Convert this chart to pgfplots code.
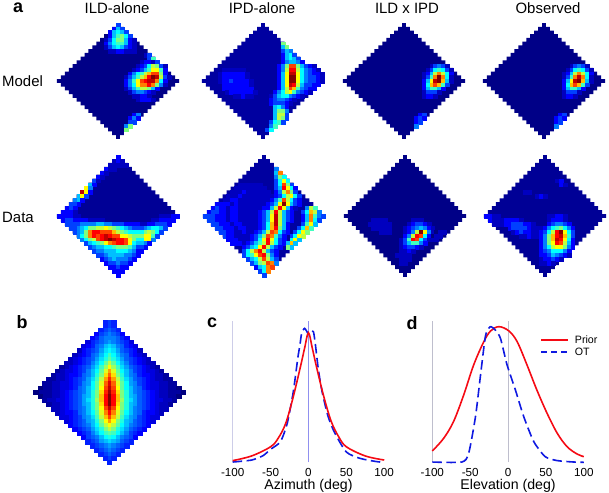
\documentclass[border=0pt]{standalone}
\usepackage{fontspec}
\setmainfont{Liberation Sans}
\usepackage{pgfplots}
\pgfplotsset{compat=1.18}
\definecolor{navyA}{RGB}{0,0,135}
\definecolor{navyB}{RGB}{0,0,160}
\definecolor{navyC}{RGB}{0,0,150}
\definecolor{lineR}{RGB}{245,10,20}
\definecolor{lineB}{RGB}{15,25,225}
\definecolor{guideA}{RGB}{205,205,232}
\definecolor{guideB}{RGB}{190,190,205}

% cells of one heat map are collected row by row, then plotted at once
\newcount\cx
\gdef\pts{}
\newcommand\hrow[3]{\cx=#2\relax
  \pgfplotsforeachungrouped \val in {#3}{\xdef\pts{\pts (\the\cx,#1) [\val]}\advance\cx by 1 }}
\newcommand\srow[2]{\cx=0\relax
  \pgfplotsforeachungrouped \val in {#2}{\xdef\pts{\pts (\the\cx,#1) [\val] (-\the\cx,#1) [\val]}\advance\cx by 1 }}
\newcommand\flushheat{\edef\tmp{\noexpand\addplot[heat] coordinates {\pts};}\tmp\gdef\pts{}}
\def\diamondpts{(-.5,15.5)(.5,15.5)(.5,14.5)(1.5,14.5)(1.5,13.5)(2.5,13.5)(2.5,12.5)(3.5,12.5)(3.5,11.5)(4.5,11.5)(4.5,10.5)(5.5,10.5)(5.5,9.5)(6.5,9.5)(6.5,8.5)(7.5,8.5)(7.5,7.5)(8.5,7.5)(8.5,6.5)(9.5,6.5)(9.5,5.5)(10.5,5.5)(10.5,4.5)(11.5,4.5)(11.5,3.5)(12.5,3.5)(12.5,2.5)(13.5,2.5)(13.5,1.5)(14.5,1.5)(14.5,.5)(15.5,.5)(15.5,-.5)(14.5,-.5)(14.5,-1.5)(13.5,-1.5)(13.5,-2.5)(12.5,-2.5)(12.5,-3.5)(11.5,-3.5)(11.5,-4.5)(10.5,-4.5)(10.5,-5.5)(9.5,-5.5)(9.5,-6.5)(8.5,-6.5)(8.5,-7.5)(7.5,-7.5)(7.5,-8.5)(6.5,-8.5)(6.5,-9.5)(5.5,-9.5)(5.5,-10.5)(4.5,-10.5)(4.5,-11.5)(3.5,-11.5)(3.5,-12.5)(2.5,-12.5)(2.5,-13.5)(1.5,-13.5)(1.5,-14.5)(.5,-14.5)(.5,-15.5)(-.5,-15.5)(-.5,-14.5)(-1.5,-14.5)(-1.5,-13.5)(-2.5,-13.5)(-2.5,-12.5)(-3.5,-12.5)(-3.5,-11.5)(-4.5,-11.5)(-4.5,-10.5)(-5.5,-10.5)(-5.5,-9.5)(-6.5,-9.5)(-6.5,-8.5)(-7.5,-8.5)(-7.5,-7.5)(-8.5,-7.5)(-8.5,-6.5)(-9.5,-6.5)(-9.5,-5.5)(-10.5,-5.5)(-10.5,-4.5)(-11.5,-4.5)(-11.5,-3.5)(-12.5,-3.5)(-12.5,-2.5)(-13.5,-2.5)(-13.5,-1.5)(-14.5,-1.5)(-14.5,-.5)(-15.5,-.5)(-15.5,.5)(-14.5,.5)(-14.5,1.5)(-13.5,1.5)(-13.5,2.5)(-12.5,2.5)(-12.5,3.5)(-11.5,3.5)(-11.5,4.5)(-10.5,4.5)(-10.5,5.5)(-9.5,5.5)(-9.5,6.5)(-8.5,6.5)(-8.5,7.5)(-7.5,7.5)(-7.5,8.5)(-6.5,8.5)(-6.5,9.5)(-5.5,9.5)(-5.5,10.5)(-4.5,10.5)(-4.5,11.5)(-3.5,11.5)(-3.5,12.5)(-2.5,12.5)(-2.5,13.5)(-1.5,13.5)(-1.5,14.5)(-.5,14.5)}
\newcommand\bgdiamond[1]{\edef\tmp{\noexpand\addplot[fill=#1,draw=none,forget plot] coordinates {\diamondpts};}\tmp}

\pgfplotsset{
  heat/.style={scatter, only marks, mark=square*, mark size=1.95bp, line width=.2bp, scatter src=explicit,
    scatter/use mapped color={draw=mapped color,fill=mapped color}, forget plot},
  hm/.style={hide axis, x=3.94bp, xmin=-15.5, xmax=15.5, ymin=-15.5, ymax=15.5,
    clip=false, anchor=center, point meta min=0, point meta max=16,
    colormap={jetish}{rgb255(0pt)=(0,0,128); rgb255(1pt)=(0,0,255); rgb255(3pt)=(0,255,255);
      rgb255(5pt)=(255,255,0); rgb255(7pt)=(255,0,0); rgb255(8pt)=(128,0,0)}},
  hmtop/.style={hm, y=3.74bp, every axis plot/.append style={mark options={yscale=.95}}},
  hmlow/.style={hm, y=3.93bp},
  curve/.style={scale only axis, width=151.5bp, height=141.3bp, xmin=-100, xmax=100, ymin=0, ymax=1,
    clip=false, anchor=south west, axis y line=none, axis x line=bottom, x axis line style={draw=none,-},
    xtick={-100,-50,0,50,100}, xtick style={draw=none}, xtick pos=bottom,
    /pgf/number format/assume math mode=true,
    xticklabel style={font=\fontsize{11.7}{13}\selectfont},
    xlabel style={font=\fontsize{14.2}{16}\selectfont, yshift=3.5bp}},
  redline/.style={color=lineR, line width=1.6bp, smooth, tension=.55, no marks},
  blueline/.style={color=lineB, line width=1.6bp, smooth, tension=.4, no marks, dash pattern=on 9.5bp off 4.5bp},
}

\begin{document}
\begin{tikzpicture}[x=1bp,y=1bp]
\path[use as bounding box] (0,0) rectangle (609,-493);

\foreach \tx/\ty/\tt in {117/-8/ILD-alone, 262/-8/IPD-alone, 407/-8/ILD x IPD, 548/-8/Observed}
  \node[font=\fontsize{15}{17}\selectfont] at (\tx,\ty) {\tt};
\node[font=\fontsize{15}{17}\selectfont, anchor=west, inner sep=0pt] at (2,-81) {Model};
\node[font=\fontsize{15}{17}\selectfont, anchor=west, inner sep=0pt] at (2,-217) {Data};
\foreach \tx/\ty/\tt in {18/-8/a, 22/-322/b, 212/-323/c, 412/-323/d}
  \node[font=\fontsize{18}{20}\selectfont\bfseries] at (\tx,\ty) {\tt};

% ILD-alone, model
\begin{axis}[hmtop, at={(118bp,-81bp)}]
\bgdiamond{navyA}
\hrow{15}{0}{3}
\hrow{14}{-1}{2,5,3}
\hrow{13}{-2}{2,5,6,5,3}
\hrow{12}{-3}{0,2,5,7,8,6,3}
\hrow{11}{-4}{0,1,3,6,8,8,5,2,1}
\hrow{10}{-3}{2,4,6,7,7,5,2,1}
\hrow{9}{-3}{1,3,5,6,5,3,2,1}
\hrow{8}{-2}{1,1,2,2,1,1,1}
\hrow{7}{7}{1,3}
\hrow{6}{8}{3,7}
\hrow{5}{6}{1,2,2,1,3}
\hrow{4}{5}{1,2,3,6,9,8,3,1}
\hrow{3}{4}{1,2,3,5,7,10,10,7,2}
\hrow{2}{3}{2,4,6,7,9,11,13,13,8,2}
\hrow{1}{2}{1,3,5,7,9,11,14,16,15,9,3,1}
\hrow{0}{2}{2,4,7,10,13,14,15,15,12,6,2}
\hrow{-1}{2}{2,4,6,10,12,12,14,12,8,4,1}
\hrow{-2}{2}{1,3,5,7,9,9,8,5,2}
\hrow{-3}{3}{1,3,4,4,3,2,1}
\hrow{-4}{4}{1,1,2,2,1}
\hrow{-5}{5}{1,2,2,2,1}
\hrow{-9}{4}{2,4}
\hrow{-10}{3}{2,4,2}
\hrow{-11}{3}{3,3}
\hrow{-12}{2}{4,8}
\hrow{-13}{2}{8}
\flushheat
\end{axis}

% IPD-alone, model
\begin{axis}[hmtop, at={(263bp,-81bp)}]
\bgdiamond{navyB}
\hrow{3}{-10}{1,1,1,1,1,1}
\hrow{2}{-11}{1,2,2,2,2,2,2,1}
\hrow{1}{-11}{1,2,2,2,2,2,2,1}
\hrow{0}{-11}{1,2,2,3,2,2,2,2,1}
\hrow{-1}{-10}{2,2,2,2,2,2,2,1}
\hrow{-2}{-10}{2,2,2,2,2,2,2,2}
\hrow{-3}{-9}{1,2,2,2,2,2,2,1}
\hrow{-4}{-7}{1,1,2,1,1}
\hrow{10}{5}{8}
\hrow{9}{5}{5,8}
\hrow{8}{5}{3,5,4}
\hrow{7}{5}{2,5,6,3}
\hrow{6}{5}{2,5,6,5,3}
\hrow{5}{5}{2,4,5,5,4,2}
\hrow{4}{4}{2,4,8,13,13,8,5,3,2,1}
\hrow{3}{4}{2,4,9,14,14,9,6,4,3,2,1}
\hrow{2}{4}{2,5,10,15,15,10,6,4,3,2,2,1}
\hrow{1}{4}{2,5,10,16,16,10,6,4,3,3,2,1}
\hrow{0}{4}{2,5,10,16,16,10,6,4,3,3,2,1}
\hrow{-1}{4}{2,5,10,15,14,9,5,3,3,2,2}
\hrow{-2}{4}{2,5,9,13,11,7,4,3,2,2}
\hrow{-3}{3}{2,4,6,9,10,7,4,3,2,1}
\hrow{-4}{2}{1,3,5,6,6,4,3,2,1}
\hrow{-5}{2}{2,3,4,4,3,2,1}
\hrow{-6}{2}{2,3,3,3,2,1}
\hrow{-7}{3}{5,6,4,2}
\hrow{-8}{3}{5,8,8,4}
\hrow{-9}{3}{5,9,9,3}
\hrow{-10}{3}{5,9,8,3}
\hrow{-11}{2}{3,6,7,3}
\hrow{-12}{2}{4,7}
\hrow{-13}{1}{3,6}
\flushheat
\end{axis}

% ILD x IPD, model
\begin{axis}[hmtop, at={(404bp,-81bp)}]
\bgdiamond{navyA}
\hrow{4}{7}{1,3,4,3,1}
\hrow{3}{6}{1,3,6,7,6,3,1}
\hrow{2}{5}{1,2,5,9,12,9,6,2}
\hrow{1}{5}{1,3,7,12,16,12,6,1}
\hrow{0}{5}{2,5,10,15,16,11,5,1}
\hrow{-1}{5}{2,6,11,13,11,7,3}
\hrow{-2}{5}{2,5,7,7,5,2}
\hrow{-3}{5}{1,3,3,3,1}
\hrow{-4}{5}{1,2,2,1}
\hrow{-9}{4}{2,3}
\hrow{-10}{3}{2,3,2}
\hrow{-11}{3}{2,3}
\hrow{-12}{3}{4}
\flushheat
\end{axis}

% Observed, model
\begin{axis}[hmtop, at={(544bp,-81bp)}]
\bgdiamond{navyA}
\hrow{4}{7}{1,3,4,3,1}
\hrow{3}{6}{1,3,6,7,6,3,1}
\hrow{2}{5}{1,2,5,9,12,9,6,2}
\hrow{1}{5}{1,3,7,12,15,12,6,1}
\hrow{0}{5}{2,5,10,15,16,11,5,1}
\hrow{-1}{5}{2,6,11,13,11,7,3}
\hrow{-2}{5}{2,5,7,7,5,2}
\hrow{-3}{5}{1,3,3,3,1}
\hrow{-4}{5}{1,2,2,1}
\hrow{-9}{4}{2,3}
\hrow{-10}{3}{2,3,2}
\hrow{-11}{3}{2,3}
\hrow{-12}{3}{4}
\flushheat
\end{axis}

% ILD-alone, data
\begin{axis}[hmlow, at={(118bp,-216bp)}]
\bgdiamond{navyC}
\hrow{15}{0}{2}
\hrow{14}{-1}{1,2,1}
\hrow{13}{-2}{1,1,1,1,1}
\hrow{12}{-3}{2,1,1}
\hrow{11}{-4}{2,1}
\hrow{10}{-5}{2,1}
\hrow{9}{-6}{3,1}
\hrow{8}{-7}{5,2}
\hrow{7}{-8}{10,4}
\hrow{6}{-9}{15,10,2}
\hrow{5}{-10}{5,10,3}
\hrow{4}{-11}{4,5,2}
\hrow{3}{-12}{3,3,2}
\hrow{2}{-13}{2,3,2}
\hrow{1}{-14}{2,2,2,1}
\hrow{0}{-15}{2,2,2,2,1,1}
\hrow{0}{11}{1,1,1,2,2}
\hrow{-1}{-14}{2,3,3,2,2,2,2,1,1,1,1}
\hrow{-1}{9}{1,1,2,2,2,2}
\hrow{-2}{-13}{3,3,3,3,4,4,4,4,5,5,4,4,3,3,3,2,2,2,2,1,1,2,2,3,3,3,2}
\hrow{-3}{-12}{3,3,4,5,6,8,8,9,9,10,9,8,7,6,5,4,3,3,3,4,5,6,6,5,3}
\hrow{-4}{-11}{3,4,5,8,12,14,14,13,13,13,11,9,8,7,6,6,6,6,8,9,8,6,3}
\hrow{-5}{-10}{4,6,8,12,14,13,14,15,14,13,13,10,10,9,8,8,8,10,10,7,3}
\hrow{-6}{-9}{4,6,8,9,13,14,15,16,15,14,14,13,10,8,6,6,10,10,4}
\hrow{-7}{-8}{3,5,6,7,8,10,12,13,14,14,13,10,6,5,5,4,2}
\hrow{-8}{-7}{3,4,5,5,6,6,7,8,8,8,7,5,3,3,2}
\hrow{-9}{-6}{3,4,4,5,5,5,6,6,6,5,4,2,2}
\hrow{-10}{-5}{3,3,4,5,5,5,5,4,4,3,2}
\hrow{-11}{-4}{2,3,4,5,4,4,4,3,2}
\hrow{-12}{-3}{2,3,3,4,3,3,2}
\hrow{-13}{-2}{2,2,3,2,2}
\hrow{-14}{-1}{2,2,2}
\hrow{-15}{0}{2}
\flushheat
\end{axis}

% IPD-alone, data
\begin{axis}[hmlow, at={(264bp,-216bp)}]
\bgdiamond{navyB}
\hrow{8}{-6}{1,1,1,1,1,1}
\hrow{7}{-7}{1,1,1,1,1,1,1,1}
\hrow{6}{-8}{1,1,1,2,1,1,1,1,1,1}
\hrow{5}{-9}{1,1,1,2,1,1,1,1,1,1,1,1}
\hrow{4}{-10}{1,1,2,2,1,1,1,1,1,1,1,1}
\hrow{3}{-12}{2,2,2,2,1,2,1,1,1,1,1,1,1}
\hrow{2}{-13}{2,3,2,2,1,2,2,1,1,1,1,1,1}
\hrow{1}{-14}{2,3,3,2,2,1,2,2,1,1,1,1,1,1,1}
\hrow{0}{-15}{3,3,3,2,2,2,1,2,2,1,1,1,1,1}
\hrow{-1}{-14}{3,3,2,2,2,1,2,2,1,1,1,1,1}
\hrow{-2}{-13}{3,3,2,2,2,1,2,2,1,1,1,1}
\hrow{-3}{-12}{3,3,2,2,2,1,2,2,1,1,1}
\hrow{-4}{-11}{3,3,2,2,1,1,2,1,1}
\hrow{-5}{-10}{3,2,2,1,1,1,1}
\hrow{-6}{-9}{2,2,2,1,1,1}
\hrow{-7}{-8}{2,2,2,1}
\hrow{12}{3}{4}
\hrow{11}{3}{5,12}
\hrow{10}{3}{4,8,6}
\hrow{9}{3}{3,6,10,6}
\hrow{8}{3}{3,6,13,8,3}
\hrow{7}{3}{3,5,14,10,6,2}
\hrow{6}{3}{2,4,9,12,8,3}
\hrow{5}{3}{2,3,6,9,10,6,3}
\hrow{4}{2}{2,4,7,13,9,6,3,2}
\hrow{3}{1}{2,3,5,10,16,10,5,3,2}
\hrow{2}{0}{2,2,5,9,14,10,5,2,1}
\hrow{1}{-1}{2,3,5,9,14,9,5,3,2}
\hrow{0}{-1}{2,3,5,10,15,9,5,3,2}
\hrow{-1}{-1}{2,3,5,10,15,9,5,3,2}
\hrow{-2}{-1}{2,3,6,11,15,9,5,2}
\hrow{-3}{-1}{2,3,6,11,14,8,5,2}
\hrow{-4}{-2}{2,3,5,9,13,12,6,3,2}
\hrow{-5}{-3}{2,3,5,8,13,12,7,4,2}
\hrow{-6}{-3}{2,3,6,10,14,10,6,3,2}
\hrow{-7}{-4}{2,3,5,7,9,14,9,6,3,2}
\hrow{-8}{-5}{2,3,5,6,10,14,9,5,3,2}
\hrow{-9}{-5}{3,6,9,12,14,9,5,3,2}
\hrow{-10}{-5}{3,6,7,10,13,14,8,4,2}
\hrow{-11}{-4}{3,5,6,9,13,9,5,3}
\hrow{-12}{-3}{3,5,8,9,13,12,4}
\hrow{-13}{-2}{2,5,6,12,13}
\hrow{-14}{-1}{3,6,12}
\hrow{-15}{0}{3}
\hrow{2}{11}{4,9,7}
\hrow{1}{10}{3,6,11,9,4}
\hrow{0}{10}{2,5,12,7,4,3}
\hrow{-1}{10}{2,5,12,6,3}
\hrow{-2}{10}{3,7,10,5}
\hrow{-3}{9}{3,6,11,7}
\hrow{-4}{8}{3,6,10,8}
\hrow{-5}{7}{3,6,10,9}
\hrow{-6}{7}{6,10,5}
\hrow{-7}{6}{5,11,5}
\hrow{-8}{6}{8,5}
\flushheat
\end{axis}

% ILD x IPD, data
\begin{axis}[hmlow, at={(405bp,-216bp)}]
\bgdiamond{navyA}
\hrow{-1}{-8}{1,1,1,1}
\hrow{-2}{-9}{1,1,1,1,1,1}
\hrow{-3}{-8}{1,1,1,1,1}
\hrow{-4}{-6}{1,1,1}
\hrow{-1}{2}{1,1,1}
\hrow{-2}{1}{1,2,3,3,2,1}
\hrow{-3}{0}{1,2,3,4,5,4,2,1}
\hrow{-4}{0}{1,2,4,9,16,10,4,1,0,1,1}
\hrow{-5}{0}{2,4,9,14,13,6,2,0,1,1}
\hrow{-6}{-1}{1,3,7,14,13,6,3,1,1,1}
\hrow{-7}{-1}{1,3,5,7,7,4,2}
\hrow{-8}{-1}{1,2,3,3,2,1}
\hrow{-9}{-1}{1,1,2,1}
\hrow{-10}{-2}{1,1,1,1}
\hrow{-11}{-1}{1,1,1}
\hrow{-12}{-1}{1,1}
\flushheat
\end{axis}

% Observed, data
\begin{axis}[hmlow, at={(545bp,-216bp)}]
\bgdiamond{navyC}
\hrow{9}{3}{1,2}
\hrow{8}{4}{2,1}
\hrow{6}{-5}{1,1}
\hrow{5}{-2}{1,2,1}
\hrow{0}{-15}{2,2,1,1}
\hrow{-1}{-14}{2,1,1,1,2,2,2,2,1}
\hrow{-2}{-13}{1,1,1,2,2,3,3,3,2,2,1}
\hrow{-3}{-9}{2,3,3,3,3,2,1,1}
\hrow{-4}{-8}{1,2,3,2,2,1,1}
\hrow{-5}{-6}{1,1,2,1,1,1}
\hrow{0}{1}{1,1,2,2,1}
\hrow{-1}{1}{1,2,2,2,1}
\hrow{-2}{1}{2,3,4,4,3,2}
\hrow{-3}{-1}{1,2,4,6,7,8,6,4,2}
\hrow{-4}{-1}{2,3,6,9,14,16,10,6,3}
\hrow{-5}{-1}{2,4,8,11,14,15,11,7,3}
\hrow{-6}{-1}{2,4,8,11,15,14,10,6,2}
\hrow{-7}{-1}{2,4,8,10,14,13,9,5,2}
\hrow{-8}{-1}{2,4,6,9,10,10,8,4,2}
\hrow{-9}{-1}{2,3,4,6,6,6,4,2}
\hrow{-10}{-1}{2,2,3,5,4,3,2,1}
\hrow{-11}{-1}{1,2,2,3,2,1}
\hrow{-12}{-1}{1,1,2,1}
\flushheat
\end{axis}

% panel b
\begin{axis}[hide axis, x=4.33bp, y=4.13bp, xmin=-17.5, xmax=17.5, ymin=-17.5, ymax=17.5,
  clip=false, anchor=center, at={(109.3bp,-392bp)}, point meta min=0, point meta max=32,
  colormap={jetish}{rgb255(0pt)=(0,0,128); rgb255(1pt)=(0,0,255); rgb255(3pt)=(0,255,255);
    rgb255(5pt)=(255,255,0); rgb255(7pt)=(255,0,0); rgb255(8pt)=(128,0,0)}]
\srow{17}{6,5}
\srow{16}{6,5}
\srow{15}{7,6,5}
\srow{14}{8,7,6,4}
\srow{13}{8,8,7,5,4}
\srow{12}{9,8,7,6,5,3}
\srow{11}{11,10,8,7,5,4,3}
\srow{10}{12,11,9,7,6,5,4,2}
\srow{9}{14,12,10,8,7,5,4,3,2}
\srow{8}{15,13,11,9,7,6,5,4,3,2}
\srow{7}{18,15,12,10,8,6,5,4,3,2,2}
\srow{6}{20,17,14,11,9,7,6,5,4,3,2,1}
\srow{5}{23,19,15,12,10,8,6,5,4,3,3,2,1}
\srow{4}{25,21,16,13,10,8,7,5,4,4,3,2,2,1}
\srow{3}{27,23,18,14,11,9,7,6,5,4,3,2,2,1,1}
\srow{2}{29,25,19,15,12,9,8,6,5,4,3,3,2,2,1,1}
\srow{1}{30,26,20,15,12,10,8,7,5,4,3,3,2,2,1,1,0}
\srow{0}{31,27,21,16,13,10,8,7,6,5,4,3,2,2,1,1,1,0}
\srow{-1}{32,28,22,16,13,10,9,7,6,5,4,3,2,2,1,1,0}
\srow{-2}{32,28,22,17,13,11,9,7,6,5,4,3,3,2,2,1}
\srow{-3}{32,28,21,16,13,10,9,7,6,5,4,3,2,2,1}
\srow{-4}{30,26,20,16,13,10,8,7,6,5,4,3,2,2}
\srow{-5}{28,24,19,15,12,10,8,7,5,4,4,3,2}
\srow{-6}{26,22,18,14,11,9,8,6,5,4,3,3}
\srow{-7}{23,20,16,13,10,9,7,6,5,4,3}
\srow{-8}{20,18,15,12,10,8,7,6,5,4}
\srow{-9}{18,16,13,11,9,7,6,5,4}
\srow{-10}{15,14,12,10,8,6,5,4}
\srow{-11}{13,12,10,8,7,6,4}
\srow{-12}{11,10,9,7,6,5}
\srow{-13}{9,8,7,6,5}
\srow{-14}{8,7,6,5}
\srow{-15}{7,6,5}
\srow{-16}{6,5}
\srow{-17}{5}
\edef\tmp{\noexpand\addplot[scatter, only marks, mark=square*, mark size=2.15bp, line width=.2bp, scatter src=explicit,
  scatter/use mapped color={draw=mapped color,fill=mapped color}, forget plot] coordinates {\pts};}\tmp
\gdef\pts{}
\end{axis}

% panel c
\begin{axis}[curve, at={(232.7bp,-462.3bp)}, xlabel={Azimuth (deg)}]
\addplot[guideA, line width=1.2bp, forget plot] coordinates {(-100,0) (-100,1)};
\addplot[guideA!70!blue, line width=.5bp, forget plot] coordinates {(0,0) (0,1)};
\addplot[blueline] coordinates {(-100,.002) (-75,.016) (-60,.047) (-50,.092) (-37,.146) (-28,.276) (-20,.5) (-14,.74) (-11,.84) (-9,.912) (-5,.948) (0,.908) (3,.925) (6.5,.925) (9,.84) (13,.66) (18,.5) (26,.323) (35,.205) (50,.073) (68,.028) (90,.005) (100,0)};
\addplot[redline] coordinates {(-100,.012) (-75,.045) (-50,.11) (-40,.17) (-30,.276) (-20,.465) (-10,.69) (-5,.81) (0,.917) (5,.81) (10,.69) (20,.47) (30,.29) (40,.18) (50,.11) (75,.045) (100,.016)};
\end{axis}

% panel d, key drawn inside the axis
\begin{axis}[curve, at={(432.3bp,-462.3bp)}, xlabel={Elevation (deg)}]
\addplot[guideB, line width=.8bp, forget plot] coordinates {(-100,0) (-100,1)};
\addplot[guideB, line width=.6bp, forget plot] coordinates {(0,0) (0,1)};
\addplot[redline] coordinates {(-100,.08) (-85,.17) (-72,.288) (-58.6,.476) (-45.4,.689) (-32,.854) (-23,.93) (-12,.96) (1,.93) (12,.854) (25,.689) (38,.512) (51.5,.347) (65,.205) (78,.11) (91,.059) (100,.04)};
\addplot[blueline] coordinates {(-100,.002) (-61,.002) (-52,.064) (-43,.323) (-36.6,.606) (-30,.889) (-25.5,.948) (-22.5,.96) (-16.7,.936) (-10,.877) (-1.3,.689) (9.7,.512) (20.7,.323) (34,.146) (49,.04) (65,.012) (87,.002) (100,0)};
\addplot[color=lineR, line width=1.6bp, no marks] coordinates {(44,.866) (79.3,.866)};
\addplot[color=lineB, line width=1.6bp, no marks, dash pattern=on 6bp off 4bp] coordinates {(44,.78) (79.3,.78)};
\node[anchor=west, inner sep=0pt, font=\fontsize{10.7}{12}\selectfont] at (axis cs:88,.866) {Prior};
\node[anchor=west, inner sep=0pt, font=\fontsize{10.7}{12}\selectfont] at (axis cs:88,.78) {OT};
\end{axis}
\end{tikzpicture}
\end{document}
